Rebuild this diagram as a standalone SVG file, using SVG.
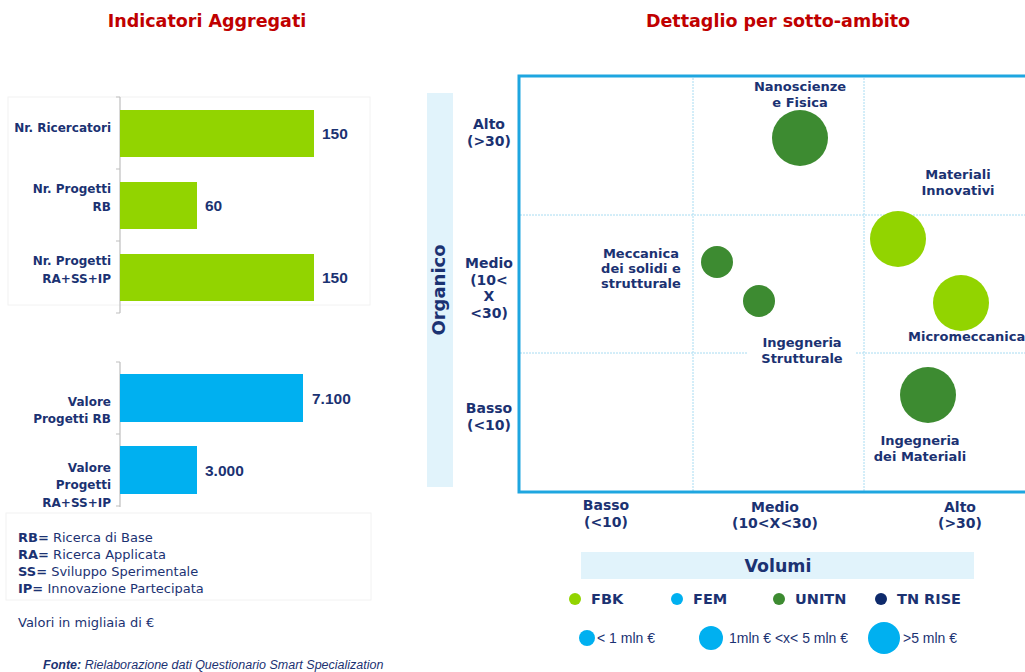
<svg xmlns="http://www.w3.org/2000/svg" width="1025" height="672" viewBox="0 0 1025 672">
<style>
.t{font-family:"DejaVu Sans",Verdana,sans-serif;font-weight:bold;fill:#1B3272}
.ttl{font-family:"DejaVu Sans",Verdana,sans-serif;font-weight:bold;font-size:17.5px;fill:#C00000;text-anchor:middle}
.l12{font-size:12px;text-anchor:end}
.c13{font-size:13px;text-anchor:middle}
.ax{font-size:14px;text-anchor:middle}
.lg{font-size:14.5px}
.n{font-family:"Liberation Sans",Arial,sans-serif;font-weight:bold;font-size:15.5px;fill:#1B3272}
.reg{font-family:"DejaVu Sans",Verdana,sans-serif;font-size:13px;fill:#1B3272}
.sz{font-family:"Liberation Sans",Arial,sans-serif;font-size:14px;fill:#1B3272}
.axis{stroke:#BFBFBF;stroke-width:1.2;fill:none}
.grn{fill:#92D400}
.blu{fill:#00B0F0}
.dk{fill:#3D8B31}
.grid{stroke:#A8DCF2;stroke-width:1;stroke-dasharray:2 1;fill:none}
.box{fill:#fff;stroke:#F2F2F2;stroke-width:1}
</style>

<!-- Titles -->
<text class="ttl" x="207" y="27">Indicatori Aggregati</text>
<text class="ttl" x="778" y="27">Dettaglio per sotto-ambito</text>

<!-- Left chart: group 1 -->
<g id="bars-count">
  <rect class="box" x="8" y="97" width="362" height="208"/>
  <path class="axis" d="M120 97V313M116 97H120M116 169H120M116 241H120M116 313H120"/>
  <g id="bar-ricercatori">
    <rect class="grn" x="120" y="110" width="194" height="47"/>
    <text class="t l12" x="111" y="132">Nr. Ricercatori</text>
    <text class="n" x="322" y="139">150</text>
  </g>
  <g id="bar-progetti-rb">
    <rect class="grn" x="120" y="182" width="77" height="47"/>
    <text class="t l12" x="111" y="193">Nr. Progetti</text>
    <text class="t l12" x="111" y="211">RB</text>
    <text class="n" x="205" y="211">60</text>
  </g>
  <g id="bar-progetti-ra">
    <rect class="grn" x="120" y="254" width="194" height="47"/>
    <text class="t l12" x="111" y="265">Nr. Progetti</text>
    <text class="t l12" x="111" y="283">RA+SS+IP</text>
    <text class="n" x="322" y="283">150</text>
  </g>
</g>

<!-- Left chart: group 2 -->
<g id="bars-value">
  <path class="axis" d="M120 362V507M116 362H120M116 434H120M116 506H120"/>
  <g id="bar-valore-rb">
    <rect class="blu" x="120" y="374" width="183" height="48"/>
    <text class="t l12" x="111" y="406">Valore</text>
    <text class="t l12" x="111" y="423">Progetti RB</text>
    <text class="n" x="312" y="404">7.100</text>
  </g>
  <g id="bar-valore-ra">
    <rect class="blu" x="120" y="446" width="77" height="48"/>
    <text class="t l12" x="111" y="472">Valore</text>
    <text class="t l12" x="111" y="489">Progetti</text>
    <text class="t l12" x="111" y="507">RA+SS+IP</text>
    <text class="n" x="205" y="476">3.000</text>
  </g>
</g>

<!-- Left legend -->
<g id="abbrev-legend">
  <rect class="box" x="6" y="513" width="365" height="87"/>
  <text class="reg" x="18" y="542"><tspan font-weight="bold">RB=</tspan> Ricerca di Base</text>
  <text class="reg" x="18" y="559"><tspan font-weight="bold">RA=</tspan> Ricerca Applicata</text>
  <text class="reg" x="18" y="576"><tspan font-weight="bold">SS=</tspan> Sviluppo Sperimentale</text>
  <text class="reg" x="18" y="593"><tspan font-weight="bold">IP=</tspan> Innovazione Partecipata</text>
</g>
<text class="reg" x="18" y="627" font-size="11.7">Valori in migliaia di €</text>
<text x="43" y="669" font-family="'Liberation Sans',Arial,sans-serif" font-size="12.5" font-style="italic" fill="#1B3272"><tspan font-weight="bold">Fonte:</tspan> Rielaborazione dati Questionario Smart Specialization</text>

<!-- Right chart -->
<g id="y-axis">
  <rect x="427" y="93" width="26" height="394" fill="#E1F3FB"/>
  <text class="t" font-size="18" text-anchor="middle" transform="translate(445,290) rotate(-90)">Organico</text>
  <text class="t ax" x="489" y="129">Alto</text>
  <text class="t ax" x="489" y="146">(&gt;30)</text>
  <text class="t ax" x="489" y="268">Medio</text>
  <text class="t ax" x="489" y="285">(10&lt;</text>
  <text class="t ax" x="489" y="301">X</text>
  <text class="t ax" x="489" y="318">&lt;30)</text>
  <text class="t ax" x="489" y="413">Basso</text>
  <text class="t ax" x="489" y="430">(&lt;10)</text>
</g>

<g id="grid">
  <path class="grid" d="M693 78V491M864 78V491M520 215H1025M520 353H1025"/>
  <rect x="519" y="76" width="520" height="416" fill="none" stroke="#1EA6E0" stroke-width="3"/>
</g>

<g id="x-axis">
  <text class="t ax" x="606" y="510">Basso</text>
  <text class="t ax" x="606" y="527">(&lt;10)</text>
  <text class="t ax" x="775" y="512">Medio</text>
  <text class="t ax" x="775" y="528">(10&lt;X&lt;30)</text>
  <text class="t ax" x="960" y="512">Alto</text>
  <text class="t ax" x="960" y="528">(&gt;30)</text>
</g>

<g id="node-nanoscienze">
  <circle class="dk" cx="800" cy="138" r="28"/>
  <text class="t c13" x="800" y="91">Nanoscienze</text>
  <text class="t c13" x="800" y="107">e Fisica</text>
</g>
<g id="node-materiali-innovativi">
  <circle class="grn" cx="898" cy="239" r="28"/>
  <text class="t c13" x="958" y="179">Materiali</text>
  <text class="t c13" x="958" y="195">Innovativi</text>
</g>
<g id="node-meccanica">
  <circle class="dk" cx="717" cy="262" r="16"/>
  <text class="t c13" x="641" y="258">Meccanica</text>
  <text class="t c13" x="641" y="273">dei solidi e</text>
  <text class="t c13" x="641" y="288">strutturale</text>
</g>
<g id="node-ing-strutturale">
  <circle class="dk" cx="759" cy="301" r="16"/>
  <rect x="747" y="337" width="109" height="30" fill="#fff"/>
  <text class="t c13" x="802" y="347">Ingegneria</text>
  <text class="t c13" x="802" y="363">Strutturale</text>
</g>
<g id="node-micromeccanica">
  <circle class="grn" cx="961" cy="303" r="28"/>
  <text class="t" font-size="13" x="908" y="341">Micromeccanica</text>
</g>
<g id="node-ing-materiali">
  <circle class="dk" cx="928" cy="395" r="28"/>
  <text class="t c13" x="920" y="445">Ingegneria</text>
  <text class="t c13" x="920" y="461">dei Materiali</text>
</g>

<!-- Volumi legend -->
<g id="legend">
  <rect x="581" y="552" width="393" height="27" fill="#E1F3FB"/>
  <text class="t" font-size="17.4" text-anchor="middle" x="778" y="572">Volumi</text>
  <circle cx="575" cy="599" r="6" fill="#92D400"/>
  <text class="t lg" x="591" y="604">FBK</text>
  <circle cx="677" cy="599" r="6" fill="#00B0F0"/>
  <text class="t lg" x="693" y="604">FEM</text>
  <circle cx="779" cy="599" r="6" fill="#3D8B31"/>
  <text class="t lg" x="795" y="604">UNITN</text>
  <circle cx="881" cy="599" r="6" fill="#0E2A6B"/>
  <text class="t lg" x="897" y="604">TN RISE</text>
  <circle cx="587" cy="638" r="8" fill="#00B0F0"/>
  <text class="sz" x="597" y="643">&lt; 1 mln €</text>
  <circle cx="711" cy="638" r="12" fill="#00B0F0"/>
  <text class="sz" x="729" y="643">1mln € &lt;x&lt; 5 mln €</text>
  <circle cx="884" cy="638" r="16" fill="#00B0F0"/>
  <text class="sz" x="903" y="643">&gt;5 mln €</text>
</g>
</svg>
